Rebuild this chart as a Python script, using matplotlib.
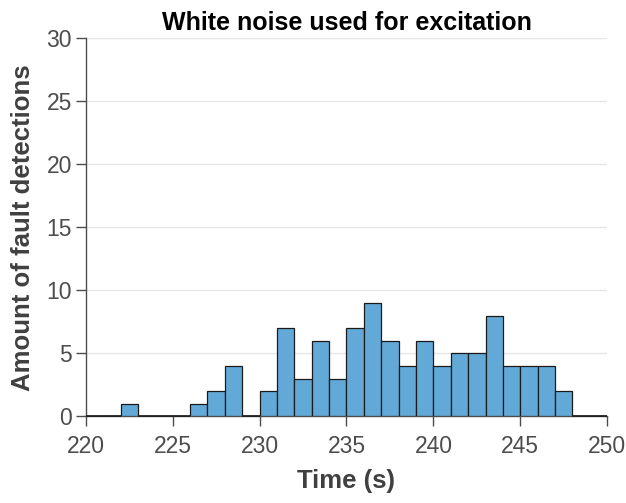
import numpy as np
import matplotlib.pyplot as plt

plt.rcParams['font.family'] = ['Liberation Sans', 'DejaVu Sans']

# histogram bins (1 s wide) and fault detection counts per bin
bin_edges = list(range(220, 251))
counts = [0, 0, 1, 0, 0, 0, 1, 2, 4, 0,
          2, 7, 3, 6, 3, 7, 9, 6, 4, 6,
          4, 5, 5, 8, 4, 4, 4, 2, 0, 0]

title = 'White noise used for excitation'
xlabel = 'Time (s)'
ylabel = 'Amount of fault detections'
xticks = [220, 225, 230, 235, 240, 245, 250]
yticks = [0, 5, 10, 15, 20, 25, 30]

axis_col = '#4d4d4d'
face_col = '#62a9d8'
edge_col = '#1a1a1a'

fig = plt.figure(figsize=(6.26, 5.03), dpi=100)
ax = fig.add_axes([0.137, 0.172, 0.833, 0.752])

edges = np.array(bin_edges, dtype=float)
heights = np.array(counts)
ax.bar(edges[:-1], heights, width=np.diff(edges), align='edge',
       color=face_col, edgecolor=edge_col, linewidth=0.9, zorder=3)
# empty bins still show their flat outline along the baseline
empty = heights == 0
ax.hlines(np.zeros(empty.sum()), edges[:-1][empty], edges[1:][empty],
          color=edge_col, linewidth=1.2, zorder=3, clip_on=False)

ax.set_xlim(220, 250)
ax.set_ylim(0, 30)
ax.set_xticks(xticks)
ax.set_yticks(yticks)
ax.yaxis.grid(True, color='#e6e6e6', linewidth=1.0, zorder=0)
ax.set_axisbelow(True)

for side in ('top', 'right'):
    ax.spines[side].set_visible(False)
for side in ('left', 'bottom'):
    ax.spines[side].set_color(axis_col)
    ax.spines[side].set_linewidth(1.0)
    ax.spines[side].set_zorder(2)

ax.tick_params(axis='both', colors=axis_col, labelsize=16.5, length=7,
               width=1.0, direction='out')
ax.tick_params(axis='x', pad=6)
ax.tick_params(axis='y', pad=3)

ax.set_title(title, fontsize=18, fontweight='bold', color='black', pad=6)
ax.set_xlabel(xlabel, fontsize=18.5, fontweight='bold', color='#404040', labelpad=8)
ax.set_ylabel(ylabel, fontsize=18.5, fontweight='bold', color='#404040', labelpad=8)

fig.savefig('out.png', dpi=100)
